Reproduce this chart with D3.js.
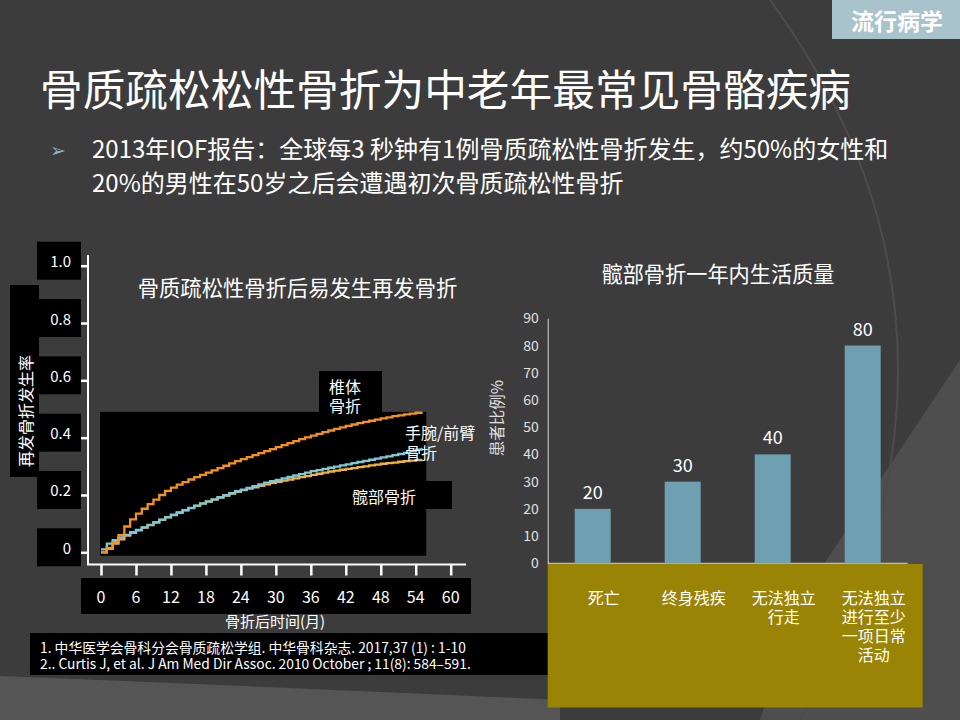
<!DOCTYPE html>
<html><head><meta charset="utf-8">
<script src="https://cdn.jsdelivr.net/npm/d3@7/dist/d3.min.js"></script>
<style>
html,body{margin:0;padding:0;background:#3c3c3c;}
svg{display:block;}
text{font-family:"Noto Sans CJK SC","Noto Sans",sans-serif;}
</style></head>
<body>
<svg id="c" width="960" height="720"></svg>
<script>
// ---------- data ----------
const pageTitle = "骨质疏松松性骨折为中老年最常见骨骼疾病";
const tagText = "流行病学";
const bulletLines = ["2013年IOF报告：全球每3 秒钟有1例骨质疏松性骨折发生，约50%的女性和",
                     "20%的男性在50岁之后会遭遇初次骨质疏松性骨折"];
const leftTitle = "骨质疏松性骨折后易发生再发骨折";
const leftYTitle = "再发骨折发生率";
const leftXTitle = "骨折后时间(月)";
const leftYTicks = [0, 0.2, 0.4, 0.6, 0.8, 1.0];
const leftYTickLabels = ["0", "0.2", "0.4", "0.6", "0.8", "1.0"];
const leftXTicks = [0, 6, 12, 18, 24, 30, 36, 42, 48, 54, 60];
// cumulative incidence per month (month = index)
const vertebral = [0,.015,.035,.06,.09,.115,.135,.152,.168,.184,.2,.214,.226,.236,.245,.254,.262,.27,.278,.286,
  .294,.302,.31,.318,.325,.332,.339,.346,.353,.36,.367,.374,.381,.388,.395,.401,.407,.413,.419,.425,
  .431,.436,.441,.446,.451,.455,.459,.463,.467,.471,.475,.478,.481,.484,.487,.49];
const wrist = [.01,.03,.042,.052,.061,.07,.078,.087,.096,.105,.114,.123,.131,.139,.147,.155,.163,.171,.178,.185,
  .192,.199,.206,.213,.219,.225,.231,.237,.243,.248,.253,.258,.263,.268,.273,.278,.283,.287,.291,.295,
  .299,.303,.307,.311,.315,.319,.323,.327,.331,.335,.339,.343,.347,.352,.358,.365];
const hip = [0,.012,.03,.045,.058,.068,.077,.086,.095,.104,.113,.122,.13,.138,.146,.154,.162,.17,.177,.184,
  .191,.198,.205,.211,.217,.222,.227,.232,.237,.242,.246,.25,.254,.258,.262,.266,.27,.274,.278,.282,
  .285,.288,.291,.294,.297,.3,.303,.306,.309,.311,.313,.316,.318,.32,.322,.325];
const seriesNames = ["髋部骨折", "手腕/前臂骨折", "椎体骨折"];
const citations = ["1. 中华医学会骨科分会骨质疏松学组. 中华骨科杂志. 2017,37 (1) : 1-10",
                   "2.. Curtis J, et al. J Am Med Dir Assoc. 2010 October ; 11(8): 584–591."];

const rightTitle = "髋部骨折一年内生活质量";
const rightYTitle = "患者比例%";
const barCategories = ["死亡", "终身残疾", "无法独立行走", "无法独立进行至少一项日常活动"];
const barLabelLines = [["死亡"], ["终身残疾"], ["无法独立", "行走"], ["无法独立", "进行至少", "一项日常", "活动"]];
const barValues = [20, 30, 40, 80];
const rightYTicks = [0, 10, 20, 30, 40, 50, 60, 70, 80, 90];

// ---------- drawing ----------
const svg = d3.select("#c");

// background decoration
svg.append("rect").attr("width", 960).attr("height", 720).attr("fill", "#3c3c3c");
svg.append("path").attr("d", "M960,360 L800,600 L760,720 L960,720 Z").attr("fill", "#4e4e4e");
svg.append("path").attr("d", "M0,676 Q300,688 560,700 L560,720 L0,720 Z").attr("fill", "#555555");
svg.append("path").attr("d", "M770,0 Q1010,330 800,720").attr("fill", "none")
  .attr("stroke", "#4c4c4c").attr("stroke-width", 2);

// tag
svg.append("rect").attr("x", 832).attr("y", 0).attr("width", 128).attr("height", 39).attr("fill", "#a8c3cc");
svg.append("text").attr("x", 897).attr("y", 20).attr("text-anchor", "middle").attr("dominant-baseline", "central")
  .attr("fill", "#fff").attr("font-size", 23).attr("font-weight", "bold").text(tagText);

// page title
svg.append("text").attr("x", 40).attr("y", 87).attr("dominant-baseline", "central")
  .attr("fill", "#fff").attr("font-size", 42.7).text(pageTitle);

// bullet
svg.append("text").attr("x", 50).attr("y", 148).attr("dominant-baseline", "central")
  .attr("font-family", "DejaVu Sans").attr("fill", "#8fb3c2").attr("font-size", 19).text("➢");
bulletLines.forEach((t, i) => {
  svg.append("text").attr("x", 92).attr("y", 147 + i * 34.7).attr("dominant-baseline", "central")
    .attr("fill", "#fff").attr("font-size", 24).text(t);
});

// ---------- left chart ----------
const lx = d3.scaleLinear().domain([0, 60]).range([101, 450.7]);
const ly = d3.scaleLinear().domain([0, 1]).range([552.3, 265.7]);
const L = svg.append("g");

// title
L.append("text").attr("x", 297.5).attr("y", 286).attr("text-anchor", "middle").attr("dominant-baseline", "central")
  .attr("fill", "#fff").attr("font-size", 21.3).text(leftTitle);

// y title box
L.append("rect").attr("x", 10).attr("y", 285).attr("width", 29).attr("height", 192).attr("fill", "#000");
L.append("text").attr("transform", "translate(25,411) rotate(-90)").attr("text-anchor", "middle")
  .attr("dominant-baseline", "central").attr("fill", "#fff").attr("font-size", 16).text(leftYTitle);

// y tick label boxes
leftYTicks.forEach((v, i) => {
  L.append("rect").attr("x", 37).attr("y", ly(v) - 24).attr("width", 44).attr("height", 38).attr("fill", "#000");
  L.append("text").attr("x", 71).attr("y", ly(v) - 5).attr("text-anchor", "end").attr("dominant-baseline", "central")
    .attr("fill", "#fff").attr("font-size", 15).attr("font-family", "Open Sans").text(leftYTickLabels[i]);
});

// x tick label box
L.append("rect").attr("x", 81).attr("y", 578).attr("width", 390).attr("height", 36).attr("fill", "#000");

// plot box
L.append("rect").attr("x", lx(0) - 1).attr("y", ly(0.49)).attr("width", lx(55.8) - lx(0) + 1)
  .attr("height", ly(-0.012) - ly(0.49)).attr("fill", "#000");
// label boxes
L.append("rect").attr("x", 319).attr("y", 371).attr("width", 63).attr("height", 41).attr("fill", "#000");
L.append("rect").attr("x", 425).attr("y", 481).attr("width", 27).attr("height", 28).attr("fill", "#000");

// axes
const yAxis = d3.axisLeft(ly).tickValues(leftYTicks).tickSize(7).tickFormat("");
const yg = L.append("g").attr("transform", "translate(88,0)").call(yAxis);
yg.select(".domain").remove();
yg.selectAll("line").attr("stroke", "#fff").attr("stroke-width", 2.5);
L.append("line").attr("x1", 88).attr("x2", 88).attr("y1", 255).attr("y2", 565).attr("stroke", "#fff").attr("stroke-width", 2);

const xAxis = d3.axisBottom(lx).tickValues(leftXTicks).tickSize(11).tickFormat("");
const xg = L.append("g").attr("transform", "translate(0,564.5)").call(xAxis);
xg.select(".domain").remove();
xg.selectAll("line").attr("stroke", "#fff").attr("stroke-width", 2.5);
L.append("line").attr("x1", 87).attr("x2", 466).attr("y1", 564.5).attr("y2", 564.5).attr("stroke", "#fff").attr("stroke-width", 2);

leftXTicks.forEach(v => {
  L.append("text").attr("x", lx(v)).attr("y", 596).attr("text-anchor", "middle").attr("dominant-baseline", "central")
    .attr("fill", "#fff").attr("font-size", 16).attr("font-family", "Open Sans").text(v);
});
L.append("text").attr("x", 275).attr("y", 620).attr("text-anchor", "middle").attr("dominant-baseline", "central")
  .attr("fill", "#fff").attr("font-size", 15).text(leftXTitle);

// step lines
const line = d3.line().x((d, i) => lx(i)).y(d => ly(d)).curve(d3.curveStepAfter);
const lineData = [[hip, "#f2b13e"], [wrist, "#7cc8d8"], [vertebral, "#f5911f"]];
lineData.forEach(([vals, col]) => {
  L.append("path").datum(vals).attr("d", line).attr("fill", "none").attr("stroke", col)
    .attr("stroke-width", 2.3).attr("stroke-linejoin", "miter");
});

// series labels
L.append("text").attr("x", 329).attr("y", 386).attr("dominant-baseline", "central").attr("fill", "#fff")
  .attr("font-size", 16).text("椎体");
L.append("text").attr("x", 329).attr("y", 405).attr("dominant-baseline", "central").attr("fill", "#fff")
  .attr("font-size", 16).text("骨折");
L.append("text").attr("x", 405).attr("y", 432).attr("dominant-baseline", "central").attr("fill", "#fff")
  .attr("font-size", 16).text("手腕/前臂");
L.append("text").attr("x", 405).attr("y", 452).attr("dominant-baseline", "central").attr("fill", "#fff")
  .attr("font-size", 16).text("骨折");
L.append("text").attr("x", 352).attr("y", 496).attr("dominant-baseline", "central").attr("fill", "#fff")
  .attr("font-size", 16).text(seriesNames[0]);

// citations
L.append("rect").attr("x", 30).attr("y", 633).attr("width", 518).attr("height", 42).attr("fill", "#000");
citations.forEach((t, i) => {
  L.append("text").attr("x", 40).attr("y", 647 + i * 16).attr("dominant-baseline", "central")
    .attr("fill", "#fff").attr("font-size", 13.8).text(t);
});

// ---------- right chart ----------
const R = svg.append("g");
const bx = d3.scaleBand().domain(barCategories).range([547.7, 907.7]).paddingInner(0.6).paddingOuter(0.3);
const by = d3.scaleLinear().domain([0, 90]).range([563.3, 318.3]);

R.append("text").attr("x", 718).attr("y", 272).attr("text-anchor", "middle").attr("dominant-baseline", "central")
  .attr("fill", "#fff").attr("font-size", 21.2).text(rightTitle);

// olive label area
R.append("rect").attr("x", 547.7).attr("y", 564).attr("width", 375).attr("height", 143.5).attr("fill", "#9a8405");

// y axis
const ryAxis = d3.axisLeft(by).tickValues(rightYTicks).tickSize(0).tickPadding(9);
const ryg = R.append("g").attr("transform", "translate(547.7,0)").call(ryAxis);
ryg.select(".domain").attr("stroke", "#d9d9d9");
ryg.selectAll("text").attr("fill", "#e0e0e0").attr("font-size", 14).attr("font-family", "Liberation Sans");
R.append("line").attr("x1", 547.7).attr("x2", 907.7).attr("y1", by(0)).attr("y2", by(0)).attr("stroke", "#d9d9d9");

R.append("text").attr("transform", "translate(496,418) rotate(-90)").attr("text-anchor", "middle")
  .attr("dominant-baseline", "central").attr("fill", "#e0e0e0").attr("font-size", 15.5).text(rightYTitle);

// bars
R.selectAll("rect.bar").data(barValues).join("rect").attr("class", "bar")
  .attr("x", (d, i) => bx(barCategories[i])).attr("width", bx.bandwidth())
  .attr("y", d => by(d)).attr("height", d => by(0) - by(d)).attr("fill", "#6ea0b2");
R.selectAll("text.val").data(barValues).join("text").attr("class", "val")
  .attr("x", (d, i) => bx(barCategories[i]) + bx.bandwidth() / 2).attr("y", d => by(d) - 18)
  .attr("text-anchor", "middle").attr("dominant-baseline", "central")
  .attr("fill", "#fff").attr("font-size", 18).attr("font-family", "Liberation Sans").text(d => d);

barLabelLines.forEach((lines, i) => {
  lines.forEach((t, j) => {
    R.append("text").attr("x", bx(barCategories[i]) + bx.bandwidth() / 2 + 11).attr("y", 597 + j * 19)
      .attr("text-anchor", "middle").attr("dominant-baseline", "central")
      .attr("fill", "#fff").attr("font-size", 16).text(t);
  });
});
</script>
</body></html>
